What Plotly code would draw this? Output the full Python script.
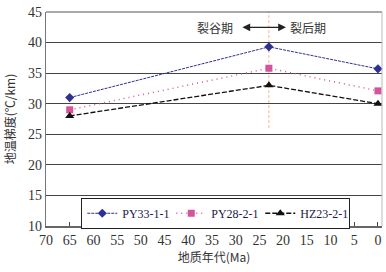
import plotly.graph_objects as go

ages = [65, 23, 0]
py33 = [31.0, 39.3, 35.7]
py28 = [29.0, 35.8, 32.1]
hz23 = [28.0, 33.0, 30.0]
series_names = ["PY33-1-1", "PY28-2-1", "HZ23-2-1"]
x_ticks = [70, 65, 60, 55, 50, 45, 40, 35, 30, 25, 20, 15, 10, 5, 0]
y_ticks = [10, 15, 20, 25, 30, 35, 40, 45]

serif = "Liberation Serif, Times New Roman, serif"
cjk = "Noto Sans CJK SC"

fig = go.Figure()
fig.add_trace(go.Scatter(x=ages, y=py33, name=series_names[0], mode="lines+markers",
                         cliponaxis=False,
                         line=dict(color="#2e3192", width=1, dash="3px,1px"),
                         marker=dict(symbol="diamond", size=7, color="#2e3192")))
fig.add_trace(go.Scatter(x=ages, y=py28, name=series_names[1], mode="lines+markers",
                         cliponaxis=False,
                         line=dict(color="#d4539c", width=1.5, dash="1px,4px"),
                         marker=dict(symbol="square", size=7, color="#d4539c")))
fig.add_trace(go.Scatter(x=ages, y=hz23, name=series_names[2], mode="lines+markers",
                         cliponaxis=False,
                         line=dict(color="#111111", width=1.3, dash="5px,2px"),
                         marker=dict(symbol="triangle-up", size=8, color="#111111")))

# rift boundary line
fig.add_shape(type="line", x0=23, x1=23, y0=26, y1=45, xref="x", yref="y",
              line=dict(color="#f6b58a", width=1, dash="3px,2px"), layer="below")
# plot borders
fig.add_shape(type="line", x0=0, x1=1, y0=1, y1=1, xref="paper", yref="paper",
              line=dict(color="#555555", width=1.2))
fig.add_shape(type="line", x0=1, x1=1, y0=0, y1=1, xref="paper", yref="paper",
              line=dict(color="#bbbbbb", width=1))

fig.add_annotation(x=34.4, y=42.5, text="裂谷期", showarrow=False,
                   font=dict(family=cjk, size=12, color="#333333"))
fig.add_annotation(x=14.8, y=42.5, text="裂后期", showarrow=False,
                   font=dict(family=cjk, size=12, color="#333333"))
fig.add_annotation(x=19.4, y=42.5, ax=28.9, ay=42.5, xref="x", yref="y",
                   axref="x", ayref="y", text="", showarrow=True,
                   arrowhead=2, startarrowhead=2, arrowside="end+start",
                   arrowsize=1.2, arrowwidth=1.3, arrowcolor="#222222")

fig.update_layout(
    width=386, height=272,
    margin=dict(l=46, r=4, t=12, b=46, autoexpand=False),
    paper_bgcolor="white", plot_bgcolor="white",
    showlegend=True,
    legend=dict(orientation="h", x=0.105, y=0.132, xanchor="left", yanchor="top",
                bgcolor="white", bordercolor="#222222", borderwidth=1,
                font=dict(family=serif, size=12, color="#1a1a4a"),
                itemwidth=30, entrywidth=44, entrywidthmode="pixels",
                tracegroupgap=0),
    xaxis=dict(range=[70, -0.85], tickmode="array", tickvals=x_ticks,
               ticks="inside", ticklen=4, tickcolor="#444444", showgrid=False,
               showline=True, linecolor="#666666", linewidth=1.5, zeroline=False,
               automargin=False, ticklabeloverflow="allow",
               tickfont=dict(family=serif, size=14, color="#333333"),
               title=dict(text="地质年代(Ma)", font=dict(family=cjk, size=12, color="#333333"),
                          standoff=6)),
    yaxis=dict(range=[10, 45], tickmode="array", tickvals=y_ticks,
               ticks="", showgrid=True, gridcolor="#444444", gridwidth=1.2,
               showline=True, linecolor="#777777", linewidth=1.2, zeroline=False,
               automargin=False, ticklabeloverflow="allow",
               tickfont=dict(family=serif, size=14, color="#333333"),
               title=dict(text="地温梯度(℃/km)", font=dict(family=cjk, size=12, color="#333333"),
                          standoff=9)),
)

fig.write_html("out.html", config={"displayModeBar": False},
               post_script="document.body.style.margin='0px';")
